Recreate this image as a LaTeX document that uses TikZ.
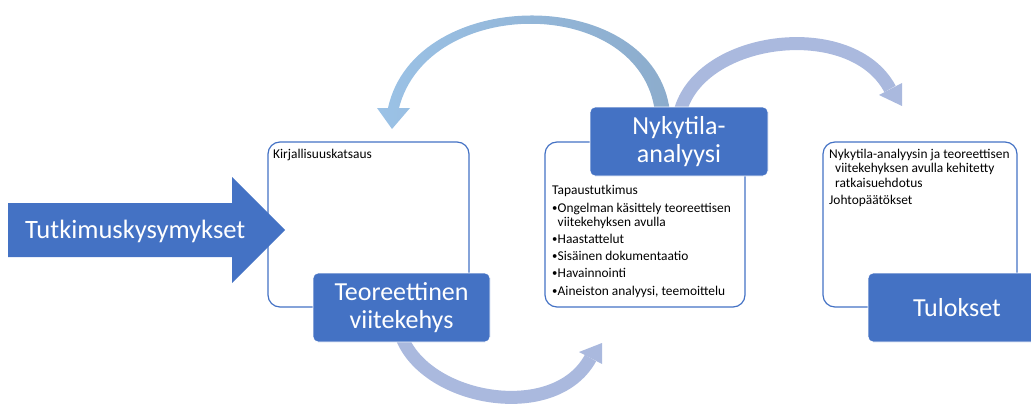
\documentclass[tikz,border=0pt]{standalone}
\usepackage{fontspec}
\setmainfont{Carlito}

\definecolor{boxblue}{RGB}{68,114,196}
\definecolor{flowlav}{RGB}{170,185,222}
\definecolor{loopleft}{RGB}{155,194,230}
\definecolor{looptop}{RGB}{226,237,248}
\definecolor{loopright}{RGB}{140,172,204}

\newcommand{\itembul}{\makebox[5.5pt][l]{\raisebox{0.5pt}{\scalebox{0.8}{•}}}}

\tikzset{
  framebox/.style={draw=boxblue, line width=1.2pt, rounded corners=12pt, inner sep=0pt},
  titlebox/.style={fill=boxblue, draw=white, line width=0.8pt, rounded corners=5pt,
    text=white, font=\fontsize{26}{28}\selectfont, align=center, inner sep=0pt},
  itemtext/.style={anchor=base west, inner sep=0pt, font=\fontsize{13.4}{15}\selectfont},
  flowarc/.style={draw=flowlav, line width=13pt},
  flowhead/.style={fill=flowlav},
  bigarrow/.style={fill=boxblue},
}

\begin{document}
\begin{tikzpicture}[x=1pt,y=-1pt]
\useasboundingbox (0,0) rectangle (1031,404);
\clip (0,0) rectangle (1031,404);

% end points of the curved flow arrows
\coordinate (rtStart) at (680,112);
\coordinate (rtEnd) at (890,89);
\coordinate (btStart) at (400,332);
\coordinate (btEnd) at (590.5,358);

% feedback loop back to the literature box (shaded band)
\shade[left color=loopleft, middle color=looptop, right color=loopright]
  (670,112) .. controls (655,-16) and (415,-16) .. (388,108)
  -- (377,108) -- (392,129) -- (410,108) -- (399,108)
  .. controls (428,-5) and (640,-5) .. (655,112) -- cycle;

% forward arrow to the results
\draw[flowarc] (rtStart) .. controls (700,35) and (852,17) .. (rtEnd);
\fill[flowhead] (902,83) -- (879,95) -- (902,106) -- cycle;

% forward arrow from the framework to the analysis
\draw[flowarc] (btStart) .. controls (420,400) and (554,425) .. (btEnd);
\fill[flowhead] (602,343) -- (579,352) -- (602,364) -- cycle;

% research questions arrow
\fill[bigarrow] (8,203) -- (232,203) -- (232,177) -- (285,230)
  -- (232,283) -- (232,257) -- (8,257) -- cycle;
\node[anchor=base west, inner sep=0pt, text=white, font=\fontsize{26.5}{28}\selectfont]
  (questions) at (25,238) {Tutkimuskysymykset};

% content frames
\node[framebox, minimum width=201pt, minimum height=165pt] (litframe) at (368.5,224.5) {};
\node[framebox, minimum width=200pt, minimum height=165pt] (caseframe) at (645,224.5) {};
\node[framebox, minimum width=194pt, minimum height=165pt] (resframe) at (920,224.5) {};

% title boxes
\node[titlebox, minimum width=177pt, minimum height=69pt] (theory) at (401.5,307.5)
  {Teoreettinen\\viitekehys};
\node[titlebox, minimum width=178pt, minimum height=69pt] (current) at (679,141.5)
  {Nykytila-\\analyysi};
\node[titlebox, minimum width=178pt, minimum height=69pt] (results) at (957,307.5)
  {Tulokset};

% literature frame text
\node[itemtext] (lit1) at (273,158) {Kirjallisuuskatsaus};

% case study frame text
\node[itemtext] (case0) at (552,194) {Tapaustutkimus};
\node[itemtext] (case1) at (552,212) {\itembul Ongelman käsittely teoreettisen};
\node[itemtext] (case1b) at (557.5,226.5) {viitekehyksen avulla};
\node[itemtext] (case2) at (552,243) {\itembul Haastattelut};
\node[itemtext] (case3) at (552,260) {\itembul Sisäinen dokumentaatio};
\node[itemtext] (case4) at (552,277) {\itembul Havainnointi};
\node[itemtext] (case5) at (552,295) {\itembul Aineiston analyysi, teemoittelu};

% results frame text
\node[itemtext] (res1) at (829,158) {Nykytila-analyysin ja teoreettisen};
\node[itemtext] (res1b) at (835,172.5) {viitekehyksen avulla kehitetty};
\node[itemtext] (res1c) at (835,187) {ratkaisuehdotus};
\node[itemtext] (res2) at (829,204) {Johtopäätökset};
\end{tikzpicture}
\end{document}
